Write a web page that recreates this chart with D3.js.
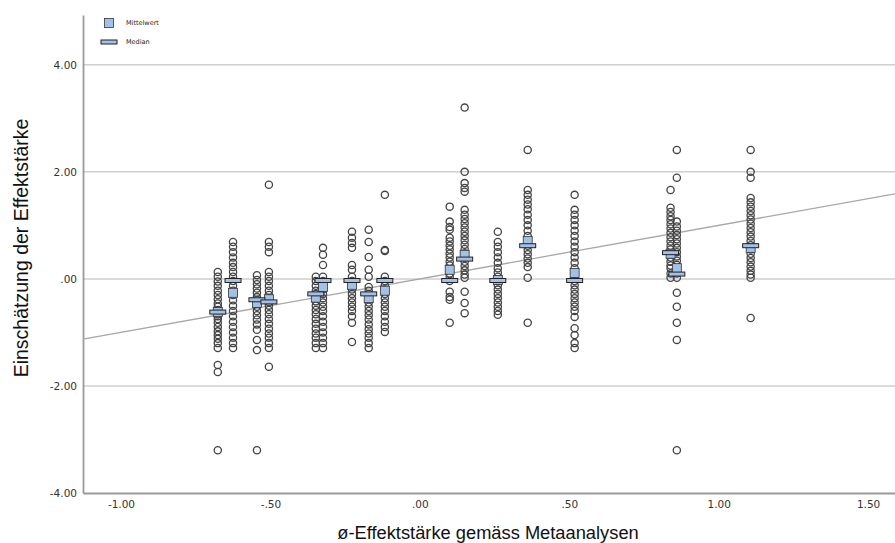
<!DOCTYPE html>
<html lang="de">
<head>
<meta charset="UTF-8">
<title>Einschätzung der Effektstärke</title>
<script src="https://d3js.org/d3.v7.min.js"></script>
<style>
  body { margin: 0; background: #fff; }
  svg { display: block; font-family: "DejaVu Sans", Arial, sans-serif; }
</style>
</head>
<body>
<div id="chart"></div>
<script>
// x position of each study (mean effect size from meta-analyses)
const groupX = [-0.676, -0.625, -0.545, -0.505, -0.348, -0.324, -0.227, -0.171, -0.117,
                0.100, 0.150, 0.261, 0.361, 0.518, 0.839, 0.860, 1.107];

// individual estimates per study
const groupValues = [
  [0.13, 0.04, -0.05, -0.13, -0.22, -0.3, -0.38, -0.46, -0.52, -0.58, -0.62, -0.66, -0.7, -0.75, -0.82, -0.9, -0.98, -1.05, -1.12, -1.2, -1.29, -1.61, -1.74, -3.2],
  [0.69, 0.6, 0.5, 0.4, 0.3, 0.22, 0.13, 0.04, -0.04, -0.13, -0.22, -0.3, -0.4, -0.5, -0.6, -0.7, -0.8, -0.9, -1.0, -1.1, -1.2, -1.29],
  [0.07, -0.02, -0.1, -0.18, -0.26, -0.34, -0.39, -0.45, -0.52, -0.6, -0.68, -0.76, -0.85, -0.95, -1.14, -1.33, -3.2],
  [1.76, 0.69, 0.6, 0.5, 0.13, 0.04, -0.04, -0.13, -0.22, -0.3, -0.38, -0.43, -0.5, -0.58, -0.66, -0.75, -0.84, -0.93, -1.02, -1.1, -1.2, -1.29, -1.64],
  [0.04, -0.04, -0.13, -0.22, -0.28, -0.35, -0.42, -0.5, -0.58, -0.66, -0.75, -0.84, -0.93, -1.02, -1.1, -1.2, -1.29],
  [0.58, 0.45, 0.26, 0.04, -0.04, -0.12, -0.2, -0.28, -0.36, -0.44, -0.52, -0.6, -0.7, -0.8, -0.9, -1.0, -1.1, -1.2, -1.29],
  [0.88, 0.77, 0.67, 0.58, 0.26, 0.17, 0.04, -0.04, -0.12, -0.2, -0.28, -0.36, -0.44, -0.52, -0.6, -0.7, -0.82, -1.18],
  [0.92, 0.69, 0.41, 0.17, 0.04, -0.15, -0.22, -0.28, -0.36, -0.44, -0.52, -0.6, -0.68, -0.76, -0.85, -0.94, -1.02, -1.1, -1.2, -1.29],
  [1.57, 0.54, 0.52, 0.04, -0.04, -0.12, -0.2, -0.28, -0.36, -0.44, -0.52, -0.6, -0.7, -0.8, -0.9, -0.99],
  [1.35, 1.07, 0.97, 0.92, 0.77, 0.7, 0.62, 0.55, 0.47, 0.4, 0.32, 0.25, 0.17, 0.1, 0.04, -0.04, -0.24, -0.34, -0.39, -0.82],
  [3.2, 2.0, 1.79, 1.7, 1.63, 1.29, 1.2, 1.12, 1.04, 0.96, 0.88, 0.8, 0.72, 0.64, 0.56, 0.48, 0.4, 0.32, 0.24, 0.16, 0.08, 0.02, -0.24, -0.45, -0.64],
  [0.88, 0.69, 0.6, 0.5, 0.4, 0.3, 0.2, 0.12, 0.04, -0.04, -0.12, -0.2, -0.28, -0.36, -0.44, -0.52, -0.6, -0.67],
  [2.41, 1.66, 1.57, 1.48, 1.39, 1.3, 1.2, 1.1, 1.0, 0.9, 0.8, 0.7, 0.62, 0.54, 0.46, 0.38, 0.3, 0.22, 0.02, -0.82],
  [1.57, 1.29, 1.2, 1.1, 1.0, 0.9, 0.8, 0.7, 0.6, 0.5, 0.4, 0.3, 0.2, 0.11, 0.04, -0.04, -0.12, -0.2, -0.28, -0.36, -0.44, -0.52, -0.6, -0.71, -0.92, -1.05, -1.2, -1.29],
  [1.66, 1.33, 1.25, 1.17, 1.1, 1.02, 0.94, 0.86, 0.78, 0.7, 0.62, 0.55, 0.47, 0.4, 0.32, 0.25, 0.2, 0.1, 0.02],
  [2.41, 1.89, 1.07, 0.98, 0.9, 0.82, 0.74, 0.66, 0.58, 0.5, 0.42, 0.34, 0.26, 0.18, 0.1, 0.02, -0.26, -0.52, -0.82, -1.14, -3.2],
  [2.41, 2.0, 1.89, 1.51, 1.43, 1.35, 1.27, 1.19, 1.11, 1.03, 0.95, 0.87, 0.79, 0.71, 0.63, 0.55, 0.47, 0.39, 0.31, 0.23, 0.15, 0.08, 0.02, -0.73]
];

const groupMeans   = [-0.62, -0.26, -0.45, -0.38, -0.35, -0.15, -0.11, -0.36, -0.22, 0.17, 0.45, -0.02, 0.71, 0.11, 0.47, 0.2, 0.58];
const groupMedians = [-0.62, -0.03, -0.39, -0.43, -0.28, -0.03, -0.03, -0.28, -0.03, -0.03, 0.37, -0.03, 0.62, -0.03, 0.49, 0.09, 0.62];

const xTicks = [-1, -0.5, 0, 0.5, 1, 1.5];
const yTicks = [-4, -2, 0, 2, 4];
const fitIntercept = 0;
const fitSlope = 1;

const width = 895, height = 543;
const margin = { top: 15, right: 0, bottom: 50, left: 83 };

const svg = d3.select("#chart").append("svg")
  .attr("width", width)
  .attr("height", height);

const x = d3.scaleLinear()
  .domain([-1.127, 1.59])
  .range([margin.left, width - margin.right]);

const y = d3.scaleLinear()
  .domain([-4, 4.93])
  .range([height - margin.bottom, margin.top]);

// SPSS style numbers: ".50", "-.50", "1.00"
const fmt = v => v.toFixed(2).replace(/^(-?)0\./, "$1.");

// horizontal grid
svg.append("g")
  .selectAll("line")
  .data(yTicks.filter(d => d > -4))
  .enter().append("line")
  .attr("x1", margin.left)
  .attr("x2", width - margin.right)
  .attr("y1", d => y(d))
  .attr("y2", d => y(d))
  .attr("stroke", "#cfcfcf")
  .attr("stroke-width", 1.5);

// axes
const yAxis = svg.append("g")
  .attr("transform", `translate(${margin.left},0)`)
  .call(d3.axisLeft(y).tickValues(yTicks).tickFormat(fmt).tickSize(0).tickPadding(6));
const xAxis = svg.append("g")
  .attr("transform", `translate(0,${height - margin.bottom})`)
  .call(d3.axisBottom(x).tickValues(xTicks).tickFormat(fmt).tickSize(0).tickPadding(8));

[yAxis, xAxis].forEach(a => {
  a.select(".domain").attr("stroke", "#9a9a9a").attr("stroke-width", 1.8);
  a.selectAll("text").attr("fill", "#333").style("font-size", "10.5px")
    .style("font-family", "'DejaVu Sans', sans-serif");
});

// fit line
const xd = x.domain();
svg.append("line")
  .attr("x1", x(xd[0]))
  .attr("y1", y(fitIntercept + fitSlope * xd[0]))
  .attr("x2", x(xd[1]))
  .attr("y2", y(fitIntercept + fitSlope * xd[1]))
  .attr("stroke", "#a8a8a8")
  .attr("stroke-width", 1.3);

// individual points
const points = [];
groupValues.forEach((vals, i) => vals.forEach(v => points.push({ gx: groupX[i], v })));

svg.append("g")
  .selectAll("circle")
  .data(points)
  .enter().append("circle")
  .attr("cx", d => x(d.gx))
  .attr("cy", d => y(d.v))
  .attr("r", 3.6)
  .attr("fill", "none")
  .attr("stroke", "#444")
  .attr("stroke-width", 1.3);

const blue = "#a3c0e8";

// means (squares)
svg.append("g")
  .selectAll("rect")
  .data(groupX)
  .enter().append("rect")
  .attr("x", (d, i) => x(d) - 4.5)
  .attr("y", (d, i) => y(groupMeans[i]) - 4.5)
  .attr("width", 9)
  .attr("height", 9)
  .attr("fill", blue)
  .attr("stroke", "#333")
  .attr("stroke-width", 0.8);

// medians (bars)
svg.append("g")
  .selectAll("rect")
  .data(groupX)
  .enter().append("rect")
  .attr("x", d => x(d) - 8)
  .attr("y", (d, i) => y(groupMedians[i]) - 2)
  .attr("width", 16)
  .attr("height", 4)
  .attr("fill", blue)
  .attr("stroke", "#222")
  .attr("stroke-width", 1);

// legend
const legend = svg.append("g").attr("transform", "translate(109,0)");
legend.append("rect")
  .attr("x", -4.5).attr("y", 18.5).attr("width", 9).attr("height", 9)
  .attr("fill", blue).attr("stroke", "#333").attr("stroke-width", 0.8);
legend.append("text")
  .attr("x", 17).attr("y", 23).attr("dy", "0.35em")
  .style("font-size", "6.5px").attr("fill", "#222").text("Mittelwert");
legend.append("rect")
  .attr("x", -8).attr("y", 40).attr("width", 16).attr("height", 4)
  .attr("fill", blue).attr("stroke", "#222").attr("stroke-width", 1);
legend.append("text")
  .attr("x", 17).attr("y", 42).attr("dy", "0.35em")
  .style("font-size", "6.5px").attr("fill", "#222").text("Median");

// axis titles
svg.append("text")
  .attr("x", 488)
  .attr("y", 539)
  .attr("text-anchor", "middle")
  .style("font-family", "'Liberation Sans', Arial, sans-serif")
  .style("font-size", "18.3px")
  .attr("fill", "#111")
  .text("ø-Effektstärke gemäss Metaanalysen");

svg.append("text")
  .attr("transform", "rotate(-90)")
  .attr("x", -248)
  .attr("y", 28)
  .attr("text-anchor", "middle")
  .style("font-family", "'Liberation Sans', Arial, sans-serif")
  .style("font-size", "19.5px")
  .attr("fill", "#111")
  .text("Einschätzung der Effektstärke");
</script>
</body>
</html>
